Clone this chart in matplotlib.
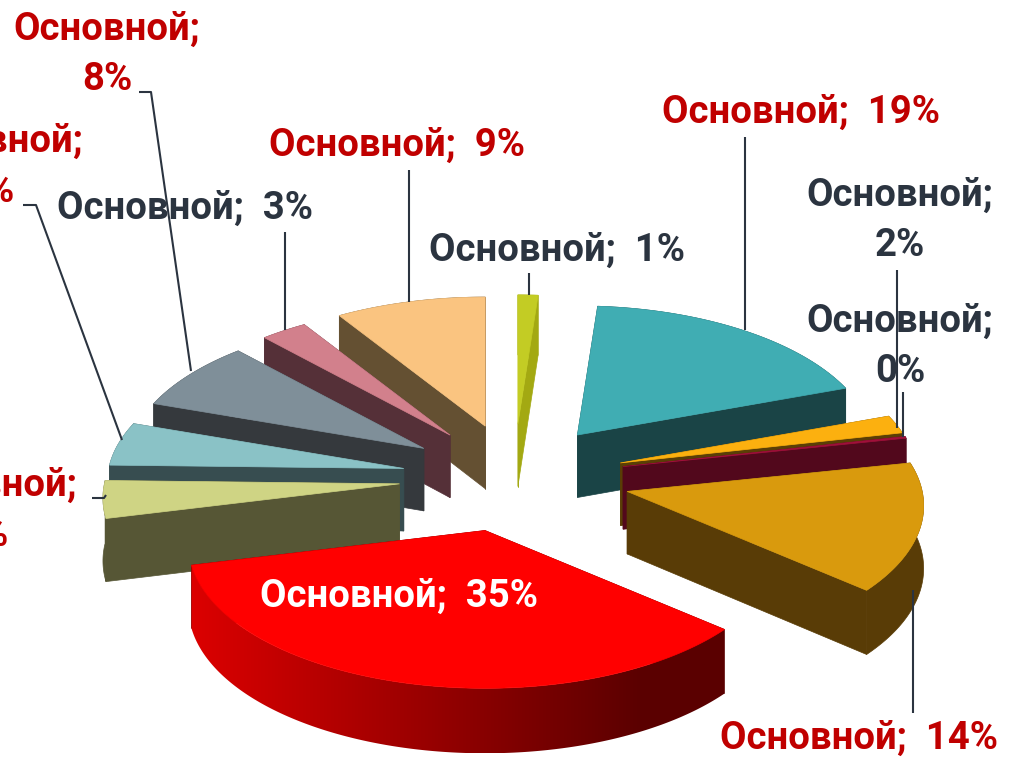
import numpy as np
import matplotlib
matplotlib.use("Agg")
import matplotlib.pyplot as plt
from matplotlib.patches import Polygon
from matplotlib.colors import to_rgb

# --- data (clockwise from 12 o'clock) ---
series_name = "Основной"
values = [1.2, 18.25, 2.05, 0.2, 14.55, 34.85, 4.2, 4.9, 7.9, 2.8, 9.0]
percent_labels = ["1%", "19%", "2%", "0%", "14%", "35%", "4%", "5%", "8%", "3%", "9%"]

# --- styles ---
top_colors = ["#c3cc24", "#40adb3", "#fcb00f", "#a0103a", "#d99a0d", "#ff0000",
              "#cfd484", "#8ac2c6", "#7f8f99", "#d2808c", "#fac480"]
wall_colors = ["#a3a912", "#1a4446", "#5a3e06", "#52081c", "#593c06", None,
               "#565635", "#374d50", "#35393d", "#553038", "#645032"]
RED_WALL_LEFT, RED_WALL_RIGHT = "#dc0000", "#5a0000"
RED_WALL_FLAT_FROM = 0.85
RED, DARK, WHITE = "#c00000", "#2b3440", "#ffffff"
label_colors = [DARK, RED, DARK, DARK, RED, WHITE, RED, RED, RED, DARK, RED]
label_two_lines = [False, False, True, True, False, False, True, True, True, False, False]
label_xy = [(557, 250), (801, 112), (900, 220), (900, 346), (859, 738), (399, 596),
            (-16, 510), (-10, 166), (107, 54), (185, 208), (397, 145)]
leaders = [[(529, 273), (529, 295)],
           [(745, 137), (745, 330)],
           [(897, 270), (897, 428)],
           [(903, 392), (903, 437)],
           [(913, 590), (913, 713)],
           None,
           [(92, 498), (104, 498), (106, 495)],
           [(23, 205), (36, 205), (122, 440)],
           [(139, 92), (151, 92), (191, 371)],
           [(285, 232), (285, 330)],
           [(409, 170), (409, 302)]]

# --- geometry of the projected pie ---
CX, CY = 514, 478
EXPLODE_X, EXPLODE_Y, EXPLODE_PERSP = 114, 54, 0.10
RX, RY, PERSP = 295, 142, 0.10
H_BACK, H_FRONT = 60, 65


def project(theta):
    u, v = np.sin(theta), np.cos(theta)
    w = 1 + PERSP * v
    return RX * u / w, -RY * v / w


def height(theta):
    v = np.cos(theta)
    return (H_BACK + H_FRONT) / 2 - (H_FRONT - H_BACK) / 2 * v


plt.rcParams["font.family"] = ["Roboto", "DejaVu Sans"]
fig = plt.figure(figsize=(10.12, 7.65), dpi=100)
ax = fig.add_axes([0, 0, 1, 1])

vals = np.array(values)
edges = np.radians(np.concatenate([[0], np.cumsum(vals)]) / vals.sum() * 360)
mids = (edges[:-1] + edges[1:]) / 2
order = np.argsort(-np.cos(mids))

for z, i in enumerate(order):
    t0, t1 = edges[i], edges[i + 1]
    ax0 = CX + EXPLODE_X * (1 - EXPLODE_PERSP * np.cos(mids[i])) * np.sin(mids[i])
    ay0 = CY - EXPLODE_Y * np.cos(mids[i])
    ts = np.linspace(t0, t1, max(4, int(np.degrees(t1 - t0) * 1.5)))
    px, py = project(ts)
    px, py = ax0 + px, ay0 + py
    hs = height(ts)
    h0 = (H_BACK + H_FRONT) / 2
    wall = wall_colors[i]
    radial_col = wall if wall else RED_WALL_RIGHT

    for k in (0, -1):
        pts = [(ax0, ay0), (px[k], py[k]), (px[k], py[k] + hs[k]), (ax0, ay0 + h0)]
        ax.add_patch(Polygon(pts, closed=True, facecolor=radial_col, edgecolor=radial_col,
                             lw=0.5, zorder=z * 10 + 1))

    arc_pts = list(zip(px, py)) + list(zip(px[::-1], (py + hs)[::-1]))
    if wall:
        ax.add_patch(Polygon(arc_pts, closed=True, facecolor=wall, edgecolor=wall,
                             lw=0.5, zorder=z * 10 + 2))
    else:
        left, right = px.min(), px.max()
        ys = (py + hs)
        f = np.clip(np.linspace(0, 1, 512) / RED_WALL_FLAT_FROM, 0, 1)[None, :, None]
        cl, cr = np.array(to_rgb(RED_WALL_LEFT)), np.array(to_rgb(RED_WALL_RIGHT))
        grad = cl[None, None, :] + (cr - cl)[None, None, :] * f
        clip = Polygon(arc_pts, closed=True, transform=ax.transData, facecolor="none",
                       edgecolor="none")
        ax.add_patch(clip)
        im = ax.imshow(grad, extent=(left, right, ys.max(), py.min()), aspect="auto",
                       zorder=z * 10 + 2, interpolation="bilinear")
        im.set_clip_path(clip)

    top = [(ax0, ay0)] + list(zip(px, py))
    ax.add_patch(Polygon(top, closed=True, facecolor=top_colors[i], edgecolor=top_colors[i],
                         lw=0.5, zorder=z * 10 + 3))

for seg in leaders:
    if seg:
        xs, ys = zip(*seg)
        ax.plot(xs, ys, color=DARK, lw=1.5, zorder=200, solid_capstyle="butt")

for pct, col, two, (x, y) in zip(percent_labels, label_colors, label_two_lines, label_xy):
    sep = "\n" if two else "  "
    ax.text(x, y, f"{series_name};{sep}{pct}", color=col, fontsize=27.5, fontweight="bold",
            ha="center", va="center", linespacing=1.45, zorder=300, clip_on=False)

ax.set_xlim(0, 1012)
ax.set_ylim(765, 0)
ax.axis("off")
fig.savefig("out.png", dpi=100)
